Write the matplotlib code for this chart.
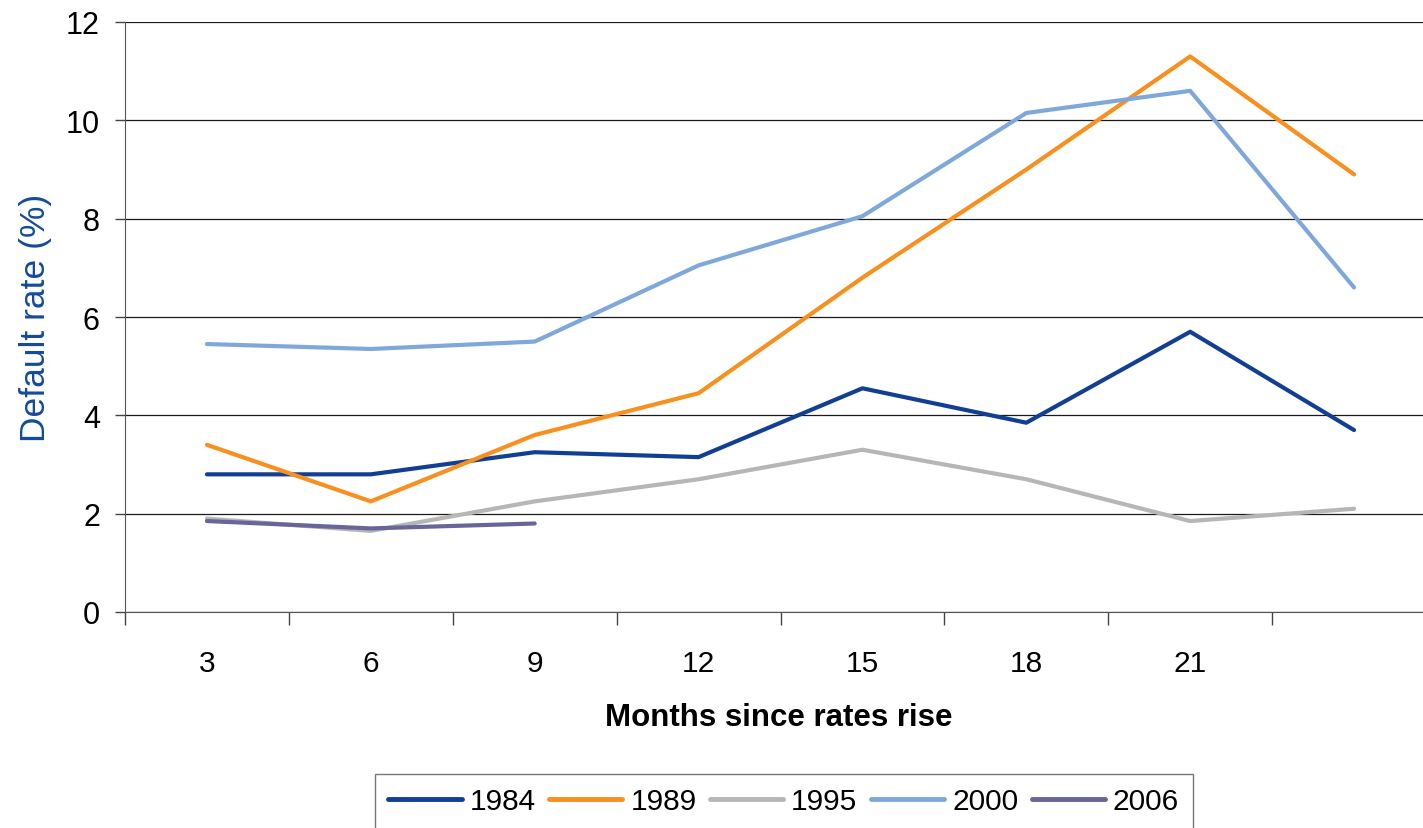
import matplotlib
matplotlib.use('Agg')
import matplotlib.pyplot as plt
from matplotlib.ticker import FixedLocator

# chart data
months = ['3', '6', '9', '12', '15', '18', '21', '']
rate_1984 = [2.8, 2.8, 3.25, 3.15, 4.55, 3.85, 5.7, 3.7]
rate_1989 = [3.4, 2.25, 3.6, 4.45, 6.8, 9.0, 11.3, 8.9]
rate_1995 = [1.9, 1.65, 2.25, 2.7, 3.3, 2.7, 1.85, 2.1]
rate_2000 = [5.45, 5.35, 5.5, 7.05, 8.05, 10.15, 10.6, 6.6]
rate_2006 = [1.85, 1.7, 1.8]

series = [
    ('1984', rate_1984, '#113F93'),
    ('1989', rate_1989, '#F7901E'),
    ('1995', rate_1995, '#B6B6B6'),
    ('2000', rate_2000, '#7FA8DA'),
    ('2006', rate_2006, '#67659C'),
]

plt.rcParams['font.family'] = ['Liberation Sans', 'DejaVu Sans']

fig = plt.figure(figsize=(14.23, 8.29), dpi=100)
# axes runs a little past the right edge of the image, like the original
ax = fig.add_axes([125 / 1423, 216 / 829, 1311 / 1423, 590 / 829])

for name, vals, col in series:
    ax.plot(range(len(vals)), vals, color=col, lw=3.0, label=name,
            solid_capstyle='round', solid_joinstyle='round')

ax.set_xlim(-0.5, len(months) - 0.5)
ax.set_ylim(0, 12)
ax.set_yticks(range(0, 13, 2))
ax.yaxis.grid(True, color='#1a1a1a', lw=0.9)
ax.set_axisbelow(True)

ax.set_xticks(range(len(months)))
ax.set_xticklabels(months)
ax.xaxis.set_minor_locator(FixedLocator([i - 0.5 for i in range(len(months) + 1)]))
ax.tick_params(axis='x', which='major', length=0, pad=27, labelsize=21.5)
ax.tick_params(axis='x', which='minor', length=9, width=1, color='#444444')
ax.tick_params(axis='y', length=7, width=1, color='#444444', pad=11, labelsize=22)

for s in ['top', 'right']:
    ax.spines[s].set_visible(False)
ax.spines['left'].set_color('#555555')
ax.spines['bottom'].set_color('#555555')

ax.set_ylabel('Default rate (%)', fontsize=25.5, color='#134A9A', labelpad=10)
fig.text(0.547, 1 - 718 / 829, 'Months since rates rise', fontsize=22.5,
         fontweight='bold', ha='center', va='center')

leg = fig.legend(loc='upper left', bbox_to_anchor=(375 / 1423, 1 - 775 / 829),
                 ncol=5, fontsize=21.5, frameon=True, fancybox=False,
                 handlelength=2.45, handletextpad=0.27, columnspacing=0.45,
                 borderpad=0.45, borderaxespad=0)
leg.get_frame().set_edgecolor('#555555')
leg.get_frame().set_linewidth(1)
for h in leg.get_lines():
    h.set_linewidth(3.5)

fig.savefig('out.png', dpi=100)
